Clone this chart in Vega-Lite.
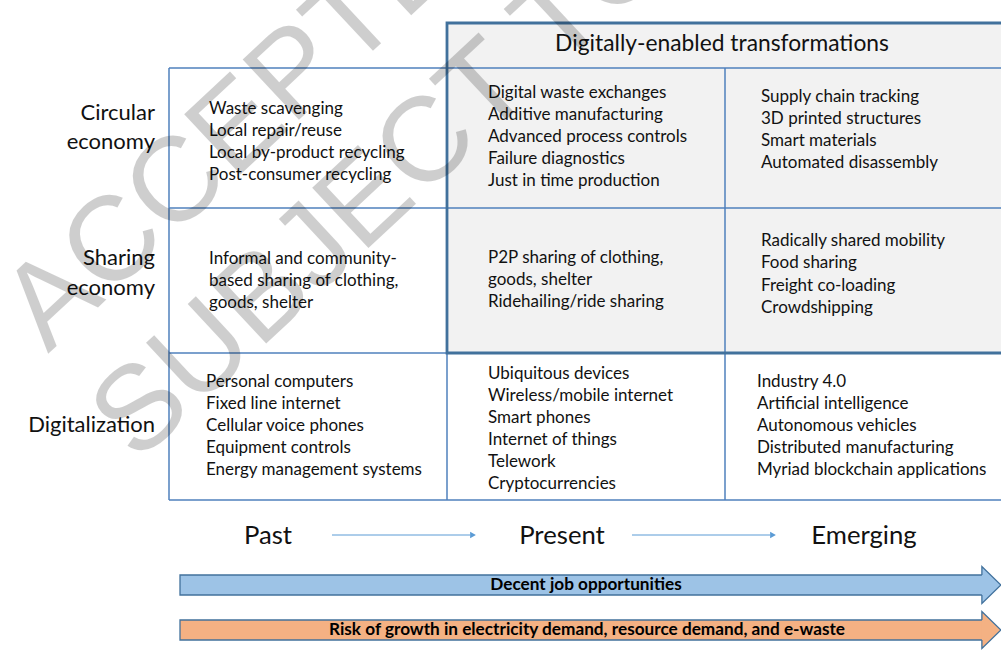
{
  "$schema": "https://vega.github.io/schema/vega-lite/v6.json",
  "width": 1001,
  "height": 652,
  "autosize": {"type": "none"},
  "padding": 0,
  "background": "white",
  "config": {"view": {"stroke": null}},
  "datasets": {
    "shade": [{"x": 447, "x2": 1010, "y": 23, "y2": 353}],
    "hlines": [
      {"x": 169, "x2": 1001, "y": 68},
      {"x": 169, "x2": 1001, "y": 208},
      {"x": 169, "x2": 1001, "y": 353},
      {"x": 169, "x2": 1001, "y": 500}
    ],
    "vlines": [
      {"x": 169, "y": 68, "y2": 500},
      {"x": 447, "y": 68, "y2": 500},
      {"x": 725, "y": 68, "y2": 500}
    ],
    "header": [{"t": "Digitally-enabled transformations", "x": 722, "y": 44}],
    "rowlabels": [
      {"t": "Circular", "x": 155, "y": 113},
      {"t": "economy", "x": 155, "y": 142},
      {"t": "Sharing", "x": 155, "y": 258},
      {"t": "economy", "x": 155, "y": 288},
      {"t": "Digitalization", "x": 155, "y": 425}
    ],
    "cells": [
      {"t": "Waste scavenging", "x": 209, "y": 109},
      {"t": "Local repair/reuse", "x": 209, "y": 131},
      {"t": "Local by-product recycling", "x": 209, "y": 153},
      {"t": "Post-consumer recycling", "x": 209, "y": 175},
      {"t": "Informal and community-", "x": 209, "y": 259},
      {"t": "based sharing of clothing,", "x": 209, "y": 281},
      {"t": "goods, shelter", "x": 209, "y": 303},
      {"t": "Personal computers", "x": 206, "y": 382},
      {"t": "Fixed line internet", "x": 206, "y": 404},
      {"t": "Cellular voice phones", "x": 206, "y": 426},
      {"t": "Equipment controls", "x": 206, "y": 448},
      {"t": "Energy management systems", "x": 206, "y": 470},
      {"t": "Digital waste exchanges", "x": 488, "y": 93},
      {"t": "Additive manufacturing", "x": 488, "y": 115},
      {"t": "Advanced process controls", "x": 488, "y": 137},
      {"t": "Failure diagnostics", "x": 488, "y": 159},
      {"t": "Just in time production", "x": 488, "y": 181},
      {"t": "P2P sharing of clothing,", "x": 488, "y": 258},
      {"t": "goods, shelter", "x": 488, "y": 280},
      {"t": "Ridehailing/ride sharing", "x": 488, "y": 302},
      {"t": "Ubiquitous devices", "x": 488, "y": 374},
      {"t": "Wireless/mobile internet", "x": 488, "y": 396},
      {"t": "Smart phones", "x": 488, "y": 418},
      {"t": "Internet of things", "x": 488, "y": 440},
      {"t": "Telework", "x": 488, "y": 462},
      {"t": "Cryptocurrencies", "x": 488, "y": 484},
      {"t": "Supply chain tracking", "x": 761, "y": 97},
      {"t": "3D printed structures", "x": 761, "y": 119},
      {"t": "Smart materials", "x": 761, "y": 141},
      {"t": "Automated disassembly", "x": 761, "y": 163},
      {"t": "Radically shared mobility", "x": 761, "y": 241},
      {"t": "Food sharing", "x": 761, "y": 263},
      {"t": "Freight co-loading", "x": 761, "y": 286},
      {"t": "Crowdshipping", "x": 761, "y": 308},
      {"t": "Industry 4.0", "x": 757, "y": 382},
      {"t": "Artificial intelligence", "x": 757, "y": 404},
      {"t": "Autonomous vehicles", "x": 757, "y": 426},
      {"t": "Distributed manufacturing", "x": 757, "y": 448},
      {"t": "Myriad blockchain applications", "x": 757, "y": 470}
    ],
    "timeline": [
      {"t": "Past", "x": 268, "y": 536},
      {"t": "Present", "x": 562, "y": 536},
      {"t": "Emerging", "x": 864, "y": 536}
    ],
    "smallarrows": [
      {"x": 332, "x2": 470, "y": 535, "tip": 473},
      {"x": 632, "x2": 770, "y": 535, "tip": 773}
    ],
    "bars": [
      {"t": "Decent job opportunities", "x": 180, "x2": 983, "y": 575, "y2": 595, "head": 983, "cy": 585, "tx": 586, "c": "blue"},
      {"t": "Risk of growth in electricity demand, resource demand, and e-waste", "x": 180, "x2": 983, "y": 620, "y2": 640, "head": 983, "cy": 630, "tx": 587, "c": "orange"}
    ],
    "watermark": [
      {"t": "ACCEPTED", "x": 48, "y": 354},
      {"t": "SUBJECT TO", "x": 137, "y": 464}
    ]
  },
  "encoding": {
    "x": {"field": "x", "type": "quantitative", "scale": {"domain": [0, 1001], "nice": false, "zero": false}, "axis": null},
    "y": {"field": "y", "type": "quantitative", "scale": {"domain": [0, 652], "nice": false, "zero": false, "reverse": true}, "axis": null}
  },
  "layer": [
    {
      "data": {"name": "shade"},
      "mark": {"type": "rect", "fill": "#f2f2f2"},
      "encoding": {"x2": {"field": "x2"}, "y2": {"field": "y2"}}
    },
    {
      "data": {"name": "hlines"},
      "mark": {"type": "rule", "stroke": "#4f81bd", "strokeWidth": 1.5},
      "encoding": {"x2": {"field": "x2"}}
    },
    {
      "data": {"name": "vlines"},
      "mark": {"type": "rule", "stroke": "#4f81bd", "strokeWidth": 1.5},
      "encoding": {"y2": {"field": "y2"}}
    },
    {
      "data": {"name": "shade"},
      "mark": {"type": "rect", "fill": null, "fillOpacity": 0, "stroke": "#41719c", "strokeWidth": 2.8},
      "encoding": {"x2": {"field": "x2"}, "y2": {"field": "y2"}}
    },
    {
      "data": {"name": "header"},
      "mark": {"type": "text", "font": "Lato", "fontSize": 22.8, "align": "center", "baseline": "middle", "color": "#111"},
      "encoding": {"text": {"field": "t"}}
    },
    {
      "data": {"name": "rowlabels"},
      "mark": {"type": "text", "font": "Lato", "fontSize": 22, "align": "right", "baseline": "middle", "color": "#111"},
      "encoding": {"text": {"field": "t"}}
    },
    {
      "data": {"name": "cells"},
      "mark": {"type": "text", "font": "Lato", "fontSize": 17, "align": "left", "baseline": "middle", "color": "#111"},
      "encoding": {"text": {"field": "t"}}
    },
    {
      "data": {"name": "timeline"},
      "mark": {"type": "text", "font": "Lato", "fontSize": 25.7, "align": "center", "baseline": "middle", "color": "#111"},
      "encoding": {"text": {"field": "t"}}
    },
    {
      "data": {"name": "smallarrows"},
      "mark": {"type": "rule", "stroke": "#5b9bd5", "strokeWidth": 1},
      "encoding": {"x2": {"field": "x2"}}
    },
    {
      "data": {"name": "smallarrows"},
      "mark": {"type": "point", "shape": "triangle-right", "filled": true, "fill": "#5b9bd5", "opacity": 1, "size": 45},
      "encoding": {"x": {"field": "tip", "type": "quantitative"}}
    },
    {
      "data": {"name": "bars"},
      "mark": {"type": "rect", "stroke": "#41719c", "strokeWidth": 1.3},
      "encoding": {
        "x2": {"field": "x2"},
        "y2": {"field": "y2"},
        "fill": {"field": "c", "type": "nominal", "scale": {"domain": ["blue", "orange"], "range": ["#9dc3e6", "#f4b183"]}, "legend": null}
      }
    },
    {
      "data": {"name": "bars"},
      "mark": {"type": "point", "shape": "M-0.06,-0.54 L-0.06,-1 L0.97,0 L-0.06,1 L-0.06,0.54", "filled": true, "opacity": 1, "stroke": "#41719c", "strokeWidth": 1.3, "size": 1369},
      "encoding": {
        "x": {"field": "head", "type": "quantitative"},
        "y": {"field": "cy", "type": "quantitative"},
        "fill": {"field": "c", "type": "nominal", "legend": null}
      }
    },
    {
      "data": {"name": "bars"},
      "mark": {"type": "text", "font": "Lato", "fontWeight": "bold", "fontSize": 17.2, "align": "center", "baseline": "middle", "color": "#000"},
      "encoding": {
        "x": {"field": "tx", "type": "quantitative"},
        "y": {"field": "cy", "type": "quantitative"},
        "text": {"field": "t"}
      }
    },
    {
      "data": {"name": "watermark"},
      "mark": {"type": "text", "font": "Liberation Sans", "fontSize": 120, "angle": -43, "align": "left", "baseline": "alphabetic", "color": "#000", "opacity": 0.19},
      "encoding": {"text": {"field": "t"}}
    }
  ]
}
